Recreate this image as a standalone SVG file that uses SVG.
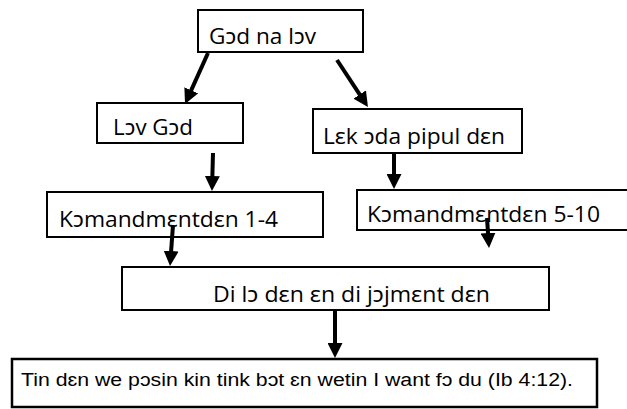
<svg xmlns="http://www.w3.org/2000/svg" width="627" height="409" viewBox="0 0 627 409">
<style>
.box{fill:#fff;stroke:#000;stroke-width:2}
.t{font-family:"Open Sans","Noto Sans",sans-serif;font-size:22px;fill:#000}
.t2{font-family:"Liberation Sans",Arial,sans-serif;font-size:18px;fill:#000}
.c line{stroke:#000;stroke-width:4;marker-end:url(#ah)}
</style>
<defs>
<marker id="ah" viewBox="0 0 15 15" refX="10" refY="7.5" markerWidth="15" markerHeight="15" markerUnits="userSpaceOnUse" orient="auto">
<path d="M0,0 L15,7.5 L0,15 z" fill="#000"/>
</marker>
</defs>
<rect width="627" height="409" fill="#fff"/>
<g id="n1"><rect class="box" x="198" y="10" width="165" height="42"/><text class="t" x="209" y="44" textLength="107" lengthAdjust="spacingAndGlyphs">Gɔd na lɔv</text></g>
<g id="n2"><rect class="box" x="97" y="103" width="146" height="40"/><text class="t" x="113" y="135" textLength="80" lengthAdjust="spacingAndGlyphs">Lɔv Gɔd</text></g>
<g id="n3"><rect class="box" x="313" y="109" width="209" height="44"/><text class="t" x="323" y="144" textLength="182" lengthAdjust="spacingAndGlyphs">Lɛk ɔda pipul dɛn</text></g>
<g id="n4"><rect class="box" x="47" y="192" width="276" height="45"/><text class="t" x="59" y="227" textLength="219" lengthAdjust="spacingAndGlyphs">Kɔmandmɛntdɛn 1-4</text></g>
<g id="n5"><rect class="box" x="357" y="190" width="272" height="40"/><text class="t" x="367" y="222" textLength="233" lengthAdjust="spacingAndGlyphs">Kɔmandmɛntdɛn 5-10</text></g>
<g id="n6"><rect class="box" x="122" y="267" width="427" height="43"/><text class="t" x="213" y="302" textLength="277" lengthAdjust="spacingAndGlyphs">Di lɔ dɛn ɛn di jɔjmɛnt dɛn</text></g>
<g id="n7"><rect class="box" x="12" y="359" width="585" height="48" style="stroke-width:2.5"/><text class="t2" x="21" y="386" textLength="552" lengthAdjust="spacingAndGlyphs">Tin dɛn we pɔsin kin tink bɔt ɛn wetin I want fɔ du (Ib 4:12).</text></g>
<g id="connectors" class="c">
<line x1="208" y1="53" x2="187.1" y2="99.4"/>
<line x1="337" y1="60" x2="365.2" y2="102.8"/>
<line x1="213" y1="153" x2="212.1" y2="186"/>
<line x1="394" y1="153" x2="394" y2="184"/>
<line x1="173" y1="225" x2="170.4" y2="261"/>
<line x1="487" y1="218" x2="488.7" y2="243"/>
<line x1="335" y1="311" x2="335" y2="353"/>
</g>
</svg>
